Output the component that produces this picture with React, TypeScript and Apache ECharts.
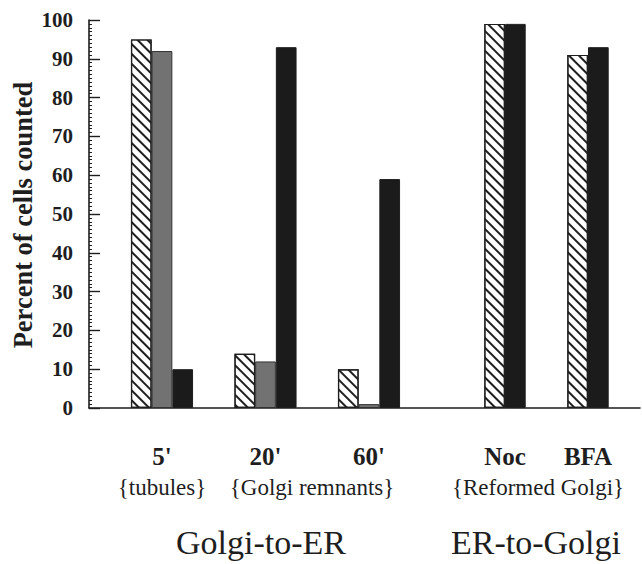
import React, { useEffect, useRef } from "react";
import * as echarts from "echarts";

const golgiToErCategories = ["5'", "20'", "60'"];
const erToGolgiCategories = ["Noc", "BFA"];
const hatchedA = [95, 14, 10];
const grayA = [92, 12, 1];
const blackA = [10, 93, 59];
const hatchedB = [99, 91];
const blackB = [99, 93];
const yTicks = { min: 0, max: 100, interval: 10 };
const subLabels = ["{tubules}", "{Golgi remnants}", "{Reformed Golgi}"];
const groupTitles = ["Golgi-to-ER", "ER-to-Golgi"];
const yTitle = "Percent of cells counted";

const SERIF = "'Liberation Serif', 'DejaVu Serif', serif";
const INK = "#1e1e1e";

export default function App() {
  const ref = useRef<HTMLDivElement>(null);
  useEffect(() => {
    if (!ref.current) return;
    const chart = echarts.init(ref.current, undefined, { renderer: "svg" });
    const top = 20;
    const height = 388;
    const barW = 20.7;
    const hatchStyle = {
      color: "#ffffff",
      borderColor: INK,
      borderWidth: 1.2,
      decal: {
        symbol: "rect",
        symbolSize: 1,
        color: INK,
        dashArrayX: [1, 0],
        dashArrayY: [1.4, 4.4],
        rotation: Math.PI / 4,
      },
    };
    const grayStyle = { color: "#727272", borderColor: "#333", borderWidth: 1 };
    const blackStyle = { color: "#1b1b1b", borderColor: INK, borderWidth: 1 };
    const catAxis = (gridIndex: number, data: string[]) => ({
      type: "category",
      gridIndex,
      data,
      axisLine: { show: false },
      axisTick: { show: false },
      axisLabel: {
        margin: 36,
        fontFamily: SERIF,
        fontWeight: "bold",
        fontSize: 25,
        color: INK,
      },
    });
    const hiddenY = (gridIndex: number) => ({
      type: "value",
      gridIndex,
      min: yTicks.min,
      max: yTicks.max,
      show: false,
    });
    chart.setOption({
      animation: false,
      backgroundColor: "#ffffff",
      grid: [
        { left: 89, top, width: 551, height },
        { left: 110.25, top, width: 310.5, height },
        { left: 463.5, top, width: 166, height },
      ],
      xAxis: [
        {
          type: "value",
          gridIndex: 0,
          min: 0,
          max: 1,
          axisLine: { show: true, lineStyle: { color: INK, width: 1.6 } },
          axisTick: { show: false },
          axisLabel: { show: false },
          splitLine: { show: false },
        },
        catAxis(1, golgiToErCategories),
        catAxis(2, erToGolgiCategories),
      ],
      yAxis: [
        {
          type: "value",
          gridIndex: 0,
          min: yTicks.min,
          max: yTicks.max,
          interval: yTicks.interval,
          axisLine: { show: true, lineStyle: { color: INK, width: 1.6 } },
          axisTick: { show: true, inside: true, length: 11, lineStyle: { color: INK, width: 1.4 } },
          minorTick: { show: true, splitNumber: 10, length: 3, lineStyle: { color: INK, width: 1 } },
          axisLabel: {
            margin: 16,
            fontFamily: SERIF,
            fontWeight: "bold",
            fontSize: 21,
            color: INK,
          },
          splitLine: { show: false },
        },
        hiddenY(1),
        hiddenY(2),
      ],
      series: [
        { type: "bar", xAxisIndex: 1, yAxisIndex: 1, data: hatchedA, barWidth: barW, barGap: "0%", itemStyle: hatchStyle },
        { type: "bar", xAxisIndex: 1, yAxisIndex: 1, data: grayA, barWidth: barW, barGap: "0%", itemStyle: grayStyle },
        { type: "bar", xAxisIndex: 1, yAxisIndex: 1, data: blackA, barWidth: barW, barGap: "0%", itemStyle: blackStyle },
        { type: "bar", xAxisIndex: 2, yAxisIndex: 2, data: hatchedB, barWidth: barW, barGap: "0%", itemStyle: hatchStyle },
        { type: "bar", xAxisIndex: 2, yAxisIndex: 2, data: blackB, barWidth: barW, barGap: "0%", itemStyle: blackStyle },
      ],
      graphic: [
        {
          type: "text",
          x: 23,
          y: 215,
          rotation: Math.PI / 2,
          style: {
            text: yTitle,
            fontFamily: SERIF,
            fontWeight: "bold",
            fontSize: 26.5,
            fill: INK,
            align: "center",
            verticalAlign: "middle",
          },
        },
        ...[
          [subLabels[0], 162],
          [subLabels[1], 312],
          [subLabels[2], 538],
        ].map(([t, x]) => ({
          type: "text",
          x: x as number,
          y: 487,
          style: {
            text: t as string,
            fontFamily: SERIF,
            fontSize: 23,
            fill: INK,
            align: "center",
            verticalAlign: "middle",
          },
        })),
        ...[
          [groupTitles[0], 261],
          [groupTitles[1], 536],
        ].map(([t, x]) => ({
          type: "text",
          x: x as number,
          y: 542,
          style: {
            text: t as string,
            fontFamily: SERIF,
            fontSize: 34,
            fill: INK,
            align: "center",
            verticalAlign: "middle",
          },
        })),
      ],
    });
    return () => chart.dispose();
  }, []);
  return (
    <div
      ref={ref}
      style={{ position: "fixed", left: 0, top: 0, width: 642, height: 564 }}
    />
  );
}
